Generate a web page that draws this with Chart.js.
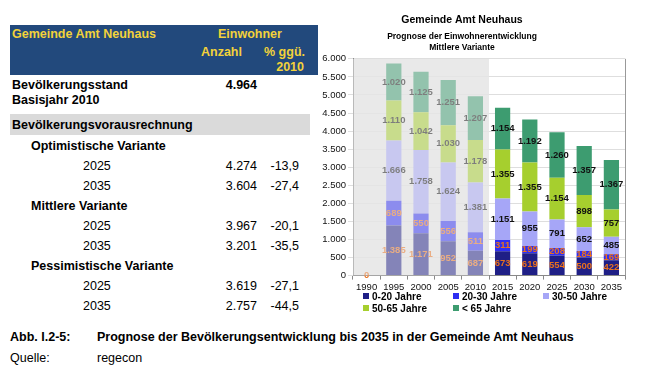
<!DOCTYPE html>
<html>
<head>
<meta charset="utf-8">
<script src="https://cdn.jsdelivr.net/npm/chart.js@4.4.1/dist/chart.umd.min.js"></script>
<style>
  body { margin:0; width:660px; height:376px; position:relative; overflow:hidden; background:#fff;
         font-family:"Liberation Sans", Arial, sans-serif; }
  .t { position:absolute; white-space:nowrap; font-size:12.5px; line-height:15px; color:#000; }
  .b { font-weight:bold; }
  .y { color:#f3d23a; }
  .r { text-align:right; }
  #head { position:absolute; left:10px; top:25px; width:308px; height:50px; background:#22497c; }
  #band { position:absolute; left:10px; top:114px; width:300px; height:21px; background:#dadada; }
  #chartBox { position:absolute; left:299px; top:10px; width:356px; height:285px; }
  .lg { position:absolute; font-size:10px; font-weight:bold; line-height:12px; white-space:nowrap; }
  .lg i { display:inline-block; width:6px; height:6px; margin-right:3px; vertical-align:1px; }
</style>
</head>
<body>
<div id="head"></div>
<div id="band"></div>
<div id="tbl"></div>
<div id="chartBox"><canvas id="c"></canvas></div>
<div id="legend"></div>
<div class="t b" style="left:10px;top:330px;">Abb. I.2-5:</div>
<div class="t b" style="left:97px;top:330px;">Prognose der Bevölkerungsentwicklung bis 2035 in der Gemeinde Amt Neuhaus</div>
<div class="t" style="left:10px;top:351px;">Quelle:</div>
<div class="t" style="left:97px;top:351px;">regecon</div>

<script>
// chart data
var years = ["1990", "1995", "2000", "2005", "2010", "2015", "2020", "2025", "2030", "2035"];
var age0_20  = [0, 1385, 1171, 952, 687, 673, 619, 554, 500, 422];
var age20_30 = [0, 689, 550, 556, 511, 311, 199, 208, 184, 169];
var age30_50 = [0, 1666, 1758, 1624, 1381, 1151, 955, 791, 652, 485];
var age50_65 = [0, 1110, 1042, 1030, 1178, 1355, 1355, 1154, 898, 757];
var age65    = [0, 1020, 1125, 1251, 1207, 1154, 1192, 1260, 1357, 1367];
var seriesNames = ["0-20 Jahre", "20-30 Jahre", "30-50 Jahre", "50-65 Jahre", "< 65 Jahre"];
var seriesColors = ["#1f1f86", "#2e2ef2", "#a6a6f7", "#a6cf2e", "#3d9c70"];
var yMax = 6000, yStep = 500;
var historyCount = 5; // 1990-2010 are shaded

// table data
var baseLabel = ["Bevölkerungsstand", "Basisjahr 2010"];
var baseValue = "4.964";
var variantNames = ["Optimistische Variante", "Mittlere Variante", "Pessimistische Variante"];
var variantYears = ["2025", "2035"];
var variantValues = [["4.274", "3.604"], ["3.967", "3.201"], ["3.619", "2.757"]];
var variantPct = [["-13,9", "-27,4"], ["-20,1", "-35,5"], ["-27,1", "-44,5"]];

var sans = "'Liberation Sans', Arial, sans-serif";

function fmt(v) {
    return String(v).replace(/\B(?=(\d{3})+(?!\d))/g, ".");
}

function put(html, cls, left, top, extra) {
    var d = document.createElement("div");
    d.className = "t " + cls;
    d.style.left = left + "px";
    d.style.top = top + "px";
    if (extra) d.style.cssText += extra;
    d.innerHTML = html;
    document.getElementById("tbl").appendChild(d);
}

// table
put("Gemeinde Amt Neuhaus", "b y", 12, 27);
put("Einwohner", "b y", 218, 27);
put("Anzahl", "b y", 201, 45);
put("% ggü.", "b y r", 250, 45, "width:55px;");
put("2010", "b y r", 250, 60, "width:54px;");
put(baseLabel[0], "b", 12, 78);
put(baseLabel[1], "b", 12, 93);
put(baseValue, "b r", 200, 78, "width:57px;");
put("Bevölkerungsvorausrechnung", "b", 12, 118);
var rowY = 139;
for (var i = 0; i < variantNames.length; i++) {
    put(variantNames[i], "b", 31, rowY);
    rowY += 20;
    for (var k = 0; k < variantYears.length; k++) {
        put(variantYears[k], "", 83, rowY);
        put(variantValues[i][k], "r", 200, rowY, "width:57px;");
        put(variantPct[i][k], "r", 250, rowY, "width:49px;");
        rowY += 20;
    }
}

// legend
var lg = document.getElementById("legend");
seriesNames.forEach(function (name, idx) {
    var d = document.createElement("div");
    d.className = "lg";
    d.style.left = (363 + (idx % 3) * 90) + "px";
    d.style.top = (291 + Math.floor(idx / 3) * 12) + "px";
    d.innerHTML = '<i style="background:' + seriesColors[idx] + '"></i>' + name;
    lg.appendChild(d);
});

var historyShade = {
    id: "historyShade",
    beforeDraw: function (chart) {
        var a = chart.chartArea, x = chart.scales.x, ctx = chart.ctx;
        var edge = (x.getPixelForValue(historyCount - 1) + x.getPixelForValue(historyCount)) / 2;
        ctx.save();
        ctx.fillStyle = "#e9e9e9";
        ctx.fillRect(a.left, a.top, edge - a.left, a.bottom - a.top);
        ctx.restore();
    },
    afterDatasetsDraw: function (chart) {
        var a = chart.chartArea, x = chart.scales.x, ctx = chart.ctx;
        ctx.save();
        ctx.font = "bold 9.5px " + sans;
        ctx.textAlign = "center";
        ctx.textBaseline = "middle";
        chart.data.datasets.forEach(function (ds, di) {
            var meta = chart.getDatasetMeta(di);
            meta.data.forEach(function (bar, j) {
                var v = ds.data[j];
                if (v === 0 && di > 0) return;
                ctx.fillStyle = di < 2 ? "#e8701e" : "#111";
                ctx.fillText(fmt(v), bar.x, (bar.y + bar.base) / 2);
            });
        });
        var edge = (x.getPixelForValue(historyCount - 1) + x.getPixelForValue(historyCount)) / 2;
        ctx.fillStyle = "rgba(233,233,233,0.5)";
        ctx.fillRect(a.left, a.top, edge - a.left, a.bottom - a.top);
        ctx.strokeStyle = "#999";
        ctx.lineWidth = 1;
        ctx.beginPath();
        ctx.moveTo(a.right + 0.5, a.top);
        ctx.lineTo(a.right + 0.5, a.bottom);
        ctx.stroke();
        ctx.restore();
    }
};

var seriesData = [age0_20, age20_30, age30_50, age50_65, age65];

new Chart(document.getElementById("c"), {
    type: "bar",
    data: {
        labels: years,
        datasets: seriesNames.map(function (name, idx) {
            return {
                label: name,
                data: seriesData[idx],
                backgroundColor: seriesColors[idx],
                barPercentage: 0.56,
                categoryPercentage: 1
            };
        })
    },
    options: {
        responsive: true,
        maintainAspectRatio: false,
        animation: false,
        layout: { padding: { left: 0, right: 30, top: 0, bottom: 0 } },
        plugins: {
            legend: { display: false },
            tooltip: { enabled: false },
            title: {
                display: true,
                text: "Gemeinde Amt Neuhaus",
                color: "#000",
                font: { size: 10.5, weight: "bold", family: sans, lineHeight: 1.2 },
                padding: { top: 4, bottom: 5 }
            },
            subtitle: {
                display: true,
                text: ["Prognose der Einwohnerentwicklung", "Mittlere Variante"],
                color: "#000",
                font: { size: 8.5, weight: "bold", family: sans, lineHeight: 1.25 },
                padding: { top: 0, bottom: 6 }
            }
        },
        scales: {
            x: {
                stacked: true,
                grid: { display: true, drawOnChartArea: false, offset: true, tickLength: 4, color: "#888" },
                border: { color: "#888" },
                ticks: { color: "#111", font: { size: 9.5, family: sans }, padding: 2, maxRotation: 0 }
            },
            y: {
                stacked: true,
                min: 0,
                max: yMax,
                afterFit: function (scale) { scale.width = 54; },
                grid: { color: "#dedede", tickLength: 5 },
                border: { color: "#888" },
                ticks: {
                    stepSize: yStep,
                    color: "#111",
                    font: { size: 9.5, family: sans },
                    padding: 2,
                    callback: function (v) { return fmt(v); }
                }
            }
        }
    },
    plugins: [historyShade]
});
</script>
</body>
</html>
